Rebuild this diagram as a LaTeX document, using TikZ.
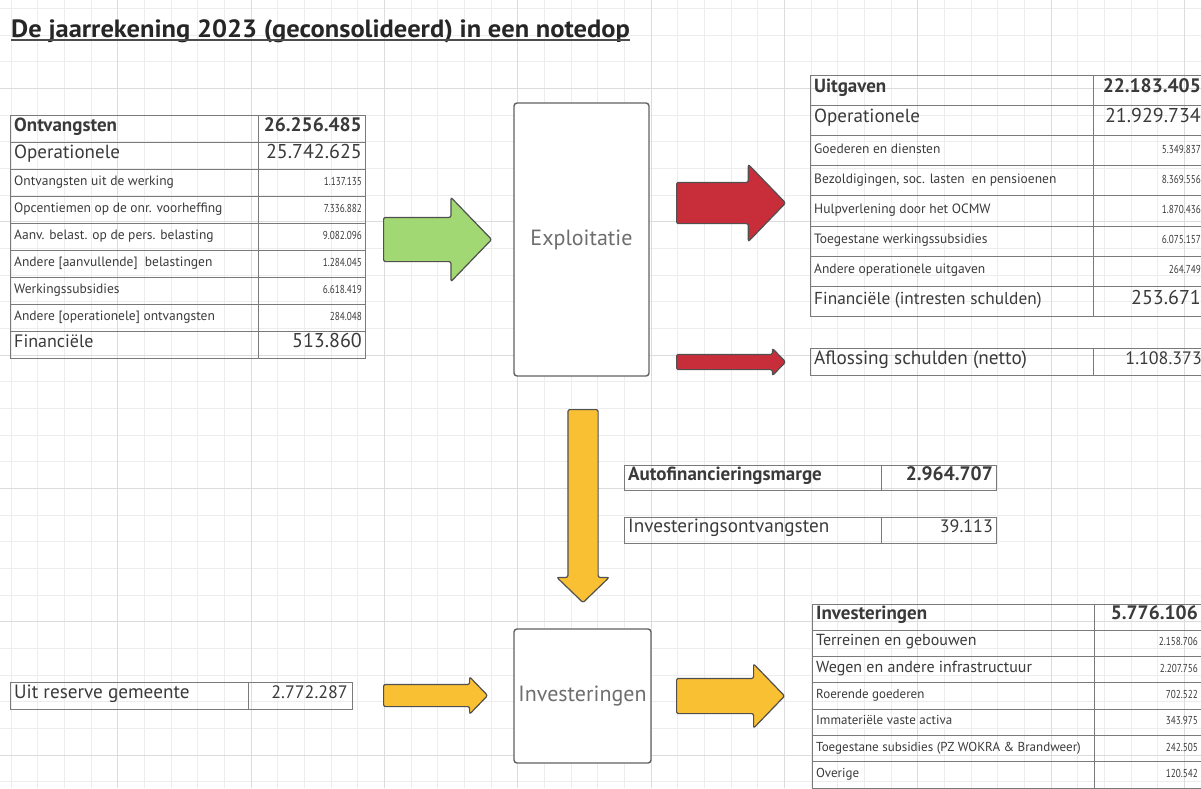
\documentclass[tikz,border=0pt]{standalone}
\usepackage{fontspec}
\setmainfont{PT Sans}
\newfontfamily\numfont{PT Sans}[FakeStretch=0.8]
\newfontfamily\titlefont{PT Sans}[FakeStretch=1.06]
\usetikzlibrary{shapes.arrows}

\definecolor{gridminor}{HTML}{EDEDED}
\definecolor{gridmajor}{HTML}{DCDCDC}
\definecolor{tabline}{HTML}{7A7A7A}
\definecolor{txt}{HTML}{3A3A3A}
\definecolor{boxtxt}{HTML}{6E6E6E}
\definecolor{arrgreen}{HTML}{A2D874}
\definecolor{arrred}{HTML}{C82D3A}
\definecolor{arryellow}{HTML}{FAC033}
\definecolor{arrline}{HTML}{505050}

\newcommand\fs[1]{\fontsize{#1}{#1}\selectfont}
% lettertypes per soort rij
\newcommand\fHd{\fs{19}\bfseries}
\newcommand\fHv{\fs{19.5}\bfseries}
\newcommand\fBg{\fs{19}}
\newcommand\fBv{\fs{20}}
\newcommand\fFn{\fs{18}}
\newcommand\fFr{\fs{17.3}}
\newcommand\fMd{\fs{19.2}}
\newcommand\fMv{\fs{18}}
\newcommand\fTn{\fs{16}}
\newcommand\fSm{\fs{13.5}}
\newcommand\fSb{\fs{13}}
\newcommand\fSv{\fs{11.5}\numfont}

\tikzset{
  flow/.style={single arrow, draw=arrline, line width=1.2pt, rounded corners=2pt,
    inner sep=0pt, anchor=tail, single arrow tip angle=92},
  block/.style={draw=arrline!90, line width=1.4pt, rounded corners=3pt, fill=white,
    text=boxtxt, font=\fs{22}},
  tab/.style={draw=tabline, line width=1pt},
  lbl/.style={anchor=mid west, inner sep=0pt, text=txt},
  val/.style={anchor=mid east, inner sep=0pt, text=txt},
}

\begin{document}
\begin{tikzpicture}[x=1pt,y=-1pt]
  \useasboundingbox (0,0) rectangle (1201,788);
  \clip (0,0) rectangle (1201,788);
  % ruitjes op de achtergrond
  \foreach \k in {0,...,44} \draw[gridminor,line width=0.8pt] ({11+26.667*\k},0) -- ++(0,788);
  \foreach \k in {0,...,29} \draw[gridminor,line width=0.8pt] (0,{8.3+26.667*\k}) -- ++(1201,0);
  \foreach \k in {4,9,...,44} \draw[gridmajor,line width=0.8pt] ({11+26.667*\k},0) -- ++(0,788);
  \foreach \k in {3,8,...,28} \draw[gridmajor,line width=0.8pt] (0,{8.3+26.667*\k}) -- ++(1201,0);

  % titel
  \node[anchor=base west, inner sep=0pt, font=\fs{25}\titlefont\bfseries, text=black!85] (title) at (11,37)
    {De jaarrekening 2023 (geconsolideerd) in een notedop};
  \draw[black!70, line width=1.8pt] ([yshift=-3pt]title.base west) -- ([yshift=-3pt]title.base east);

  % Ontvangsten (links)
  \foreach \fl/\fv/\l/\v [count=\i] in {
      \fHd/\fHv/Ontvangsten/26.256.485,
      \fBg/\fBv/Operationele/25.742.625,
      \fSm/\fSv/Ontvangsten uit de werking/1.137.135,
      \fSm/\fSv/Opcentiemen op de onr. voorheffing/7.336.882,
      \fSm/\fSv/Aanv. belast. op de pers. belasting/9.082.096,
      \fSm/\fSv/Andere [aanvullende]\ \ belastingen/1.284.045,
      \fSm/\fSv/Werkingssubsidies/6.618.419,
      \fSm/\fSv/Andere [operationele] ontvangsten/284.048,
      \fFn/\fBv/Financiële/513.860}{
    \draw[tab] (10,{115+27*(\i-1)}) rectangle (365,{115+27*\i});
    \draw[tab] (258,{115+27*(\i-1)}) -- (258,{115+27*\i});
    \node[lbl,font=\fl] (ont-l\i) at (14,{115+27*(\i-.5)}) {\l};
    \node[val,font=\fv] (ont-v\i) at (362,{115+27*(\i-.5)}) {\v};
  }

  % Uitgaven (rechts boven)
  \foreach \fl/\fv/\l/\v [count=\i] in {
      \fHd/\fHv/Uitgaven/22.183.405,
      \fBg/\fBv/Operationele/21.929.734,
      \fSm/\fSv/Goederen en diensten/5.349.837,
      \fSm/\fSv/{Bezoldigingen, soc. lasten\ \ en pensioenen}/8.369.556,
      \fSm/\fSv/Hulpverlening door het OCMW/1.870.436,
      \fSm/\fSv/Toegestane werkingssubsidies/6.075.157,
      \fSm/\fSv/Andere operationele uitgaven/264.749,
      \fFr/\fBv/Financiële (intresten schulden)/253.671}{
    \draw[tab] (810,{75+30.2*(\i-1)}) rectangle (1215,{75+30.2*\i});
    \draw[tab] (1093,{75+30.2*(\i-1)}) -- (1093,{75+30.2*\i});
    \node[lbl,font=\fl] (uit-l\i) at (814,{75+30.2*(\i-.5)}) {\l};
    \node[val,font=\fv] (uit-v\i) at (1201,{75+30.2*(\i-.5)}) {\v};
  }

  % Aflossing
  \draw[tab] (810,348) rectangle (1215,375);
  \draw[tab] (1093,348) -- (1093,375);
  \node[lbl,font=\fMd] (afl-l) at (814,361.5) {Aflossing schulden (netto)};
  \node[val,font=\fMv] (afl-v) at (1202,361.5) {1.108.373};

  % Autofinanciering en investeringsontvangsten
  \draw[tab] (624,465) rectangle (996,490);
  \draw[tab] (881,465) -- (881,490);
  \node[lbl,font=\fHd] (afm-l) at (628,477.5) {Autofinancieringsmarge};
  \node[val,font=\fHv] (afm-v) at (993,477.5) {2.964.707};
  \draw[tab] (624,517) rectangle (996,543);
  \draw[tab] (881,517) -- (881,543);
  \node[lbl,font=\fMd] (ivo-l) at (628,530) {Investeringsontvangsten};
  \node[val,font=\fMv] (ivo-v) at (993,530) {39.113};

  % Investeringen (rechts onder)
  \foreach \fl/\fv/\l/\v [count=\i] in {
      \fHd/\fHv/Investeringen/5.776.106,
      \fTn/\fSv/Terreinen en gebouwen/2.158.706,
      \fTn/\fSv/Wegen en andere infrastructuur/2.207.756,
      \fSb/\fSv/Roerende goederen/702.522,
      \fSb/\fSv/Immateriële vaste activa/343.975,
      \fSb/\fSv/Toegestane subsidies (PZ WOKRA \& Brandweer)/242.505,
      \fSb/\fSv/Overige/120.542}{
    \draw[tab] (812,{604+26.3*(\i-1)}) rectangle (1215,{604+26.3*\i});
    \draw[tab] (1094,{604+26.3*(\i-1)}) -- (1094,{604+26.3*\i});
    \node[lbl,font=\fl] (inv-l\i) at (816,{604+26.3*(\i-.5)}) {\l};
    \node[val,font=\fv] (inv-v\i) at (1198,{604+26.3*(\i-.5)}) {\v};
  }

  % Uit reserve
  \draw[tab] (10,682) rectangle (352,709);
  \draw[tab] (248,682) -- (248,709);
  \node[lbl,font=\fMd] (res-l) at (14,695.5) {Uit reserve gemeente};
  \node[val,font=\fMv] (res-v) at (348,695.5) {2.772.287};

  % de twee blokken
  \node[block, minimum width=135pt, minimum height=273pt] (expl) at (581.5,239.5) {Exploitatie};
  \node[block, minimum width=137pt, minimum height=134pt] (invb) at (582.5,696) {Investeringen};

  % dikke pijlen
  \node[flow, fill=arrgreen, minimum height=108pt, minimum width=83pt, inner ysep=21.5pt,
    single arrow head extend=20pt] (in-ont) at (383,239.5) {};
  \node[flow, fill=arrred, minimum height=109pt, minimum width=76pt, inner ysep=20pt,
    single arrow head extend=18pt] (uit-op) at (676,203) {};
  \node[flow, fill=arrred, minimum height=109pt, minimum width=26pt, inner ysep=7pt,
    single arrow head extend=6pt] (uit-afl) at (676,362) {};
  \node[flow, fill=arryellow, minimum height=193pt, minimum width=51pt, inner ysep=14.5pt,
    single arrow head extend=11pt, rotate=-90] (afm-down) at (583,409) {};
  \node[flow, fill=arryellow, minimum height=104pt, minimum width=36pt, inner ysep=10.5pt,
    single arrow head extend=7.5pt] (in-res) at (383,695.5) {};
  \node[flow, fill=arryellow, minimum height=108pt, minimum width=63pt, inner ysep=17pt,
    single arrow head extend=14.5pt] (uit-inv) at (676,696) {};
\end{tikzpicture}
\end{document}
